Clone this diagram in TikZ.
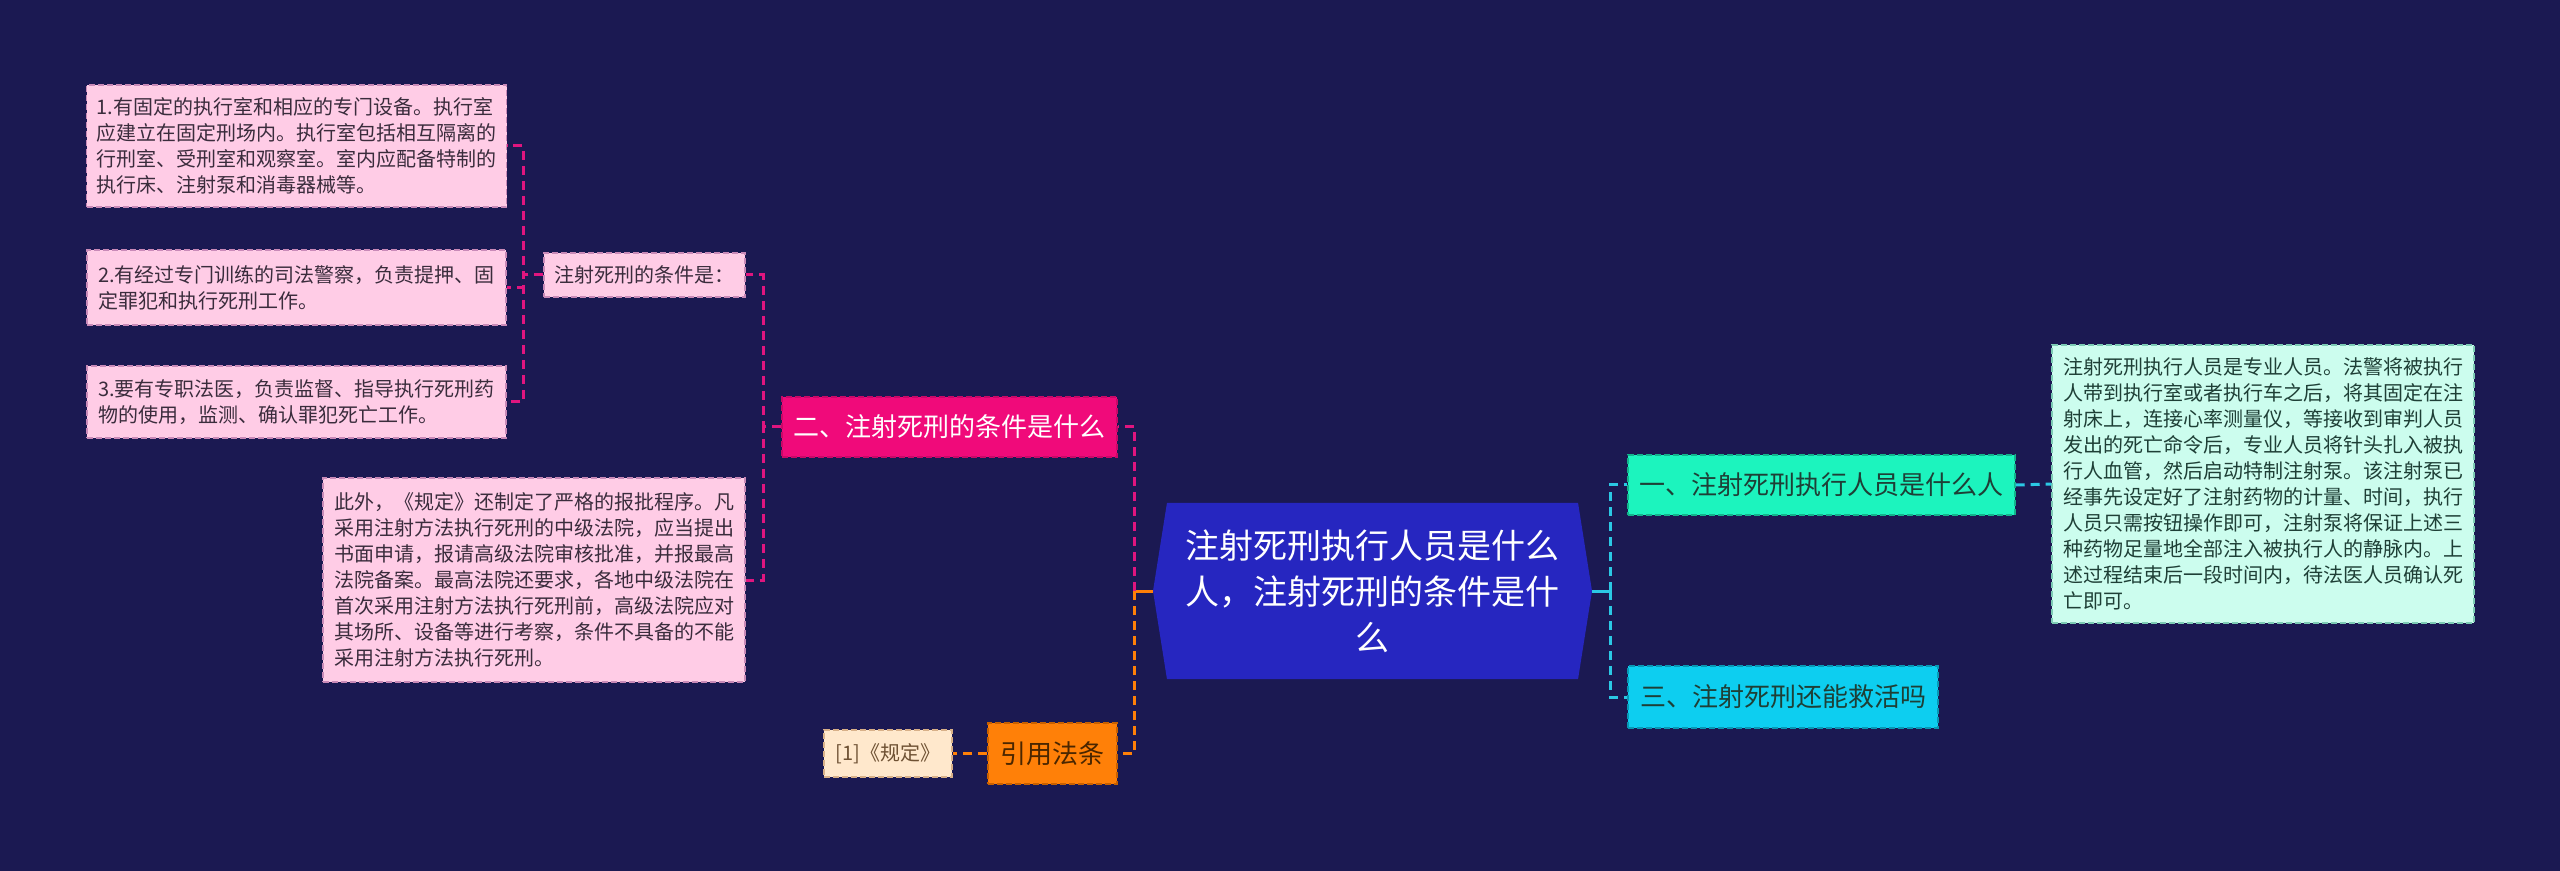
\documentclass[tikz,border=0pt]{standalone}
\usepackage{fontspec}
\setmainfont{Noto Sans CJK SC}
\usepackage{xcolor}
\usetikzlibrary{shapes.symbols}

\definecolor{bgnavy}{HTML}{1B1952}
\definecolor{rootblue}{HTML}{2626C0}
\definecolor{leafpink}{HTML}{FFCCE6}
\definecolor{leafedge}{HTML}{C98AB8}
\definecolor{leaftext}{HTML}{3A2C3C}
\definecolor{hotpink}{HTML}{F00A7A}
\definecolor{hotedge}{HTML}{C90868}
\definecolor{linkpink}{HTML}{E0157F}
\definecolor{citeorange}{HTML}{FF8008}
\definecolor{citeedge}{HTML}{C86000}
\definecolor{citetext}{HTML}{4A2600}
\definecolor{peach}{HTML}{FFE8CC}
\definecolor{peachedge}{HTML}{D8B088}
\definecolor{aqua}{HTML}{1CF4BE}
\definecolor{aquaedge}{HTML}{12B48C}
\definecolor{cyanbox}{HTML}{0DCEF0}
\definecolor{cyanedge}{HTML}{0898B4}
\definecolor{mint}{HTML}{CCFDEE}
\definecolor{mintedge}{HTML}{7CCBB4}
\definecolor{greentext}{HTML}{1E3F36}
\definecolor{linkcyan}{HTML}{2BC8E4}

\begin{document}
\begin{tikzpicture}[
    x=0.5pt,
    y=-0.5pt,
    box/.style={
        dash pattern=on 3pt off 1.5pt,
        line width=0.7pt,
        inner xsep=5pt,
        inner ysep=3pt
    },
    leaf/.style={
        box,
        draw=leafedge,
        fill=leafpink,
        text=leaftext,
        font=\fontsize{10}{13}\selectfont,
        align=left
    },
    branch/.style={
        box,
        font=\fontsize{13}{16}\selectfont
    },
    detail/.style={
        box,
        draw=mintedge,
        fill=mint,
        text=greentext,
        font=\fontsize{10}{13}\selectfont,
        align=left
    },
    root/.style={
        signal,
        signal to=east and west,
        signal pointer angle=162,
        fill=rootblue,
        text=white,
        inner sep=0pt,
        font=\fontsize{17}{23}\selectfont,
        align=center
    },
    link/.style={
        line width=1.5pt,
        dash pattern=on 4.5pt off 3pt
    },
    pinkline/.style={link, draw=linkpink},
    orangeline/.style={link, draw=citeorange},
    cyanline/.style={link, draw=linkcyan}
]

% Background
\fill[bgnavy] (0,0) rectangle (2560,871);

% Nodes
\node [root, minimum width=219.5pt, minimum height=88pt] (root) at (1372.5,591)
    {注射死刑执行人员是什么\\人，注射死刑的条件是什\\么};

\node [branch, draw=hotedge, fill=hotpink, text=white,
    minimum width=167.5pt, minimum height=30pt] (two) at (949.5,427)
    {二、注射死刑的条件是什么};
\node [leaf, minimum width=100.5pt, minimum height=22pt] (cond) at (644.5,275)
    {注射死刑的条件是：};
\node [leaf, minimum width=209.5pt, minimum height=61pt] (cond1) at (296.5,146)
    {1.有固定的执行室和相应的专门设备。执行室\\应建立在固定刑场内。执行室包括相互隔离的\\行刑室、受刑室和观察室。室内应配备特制的\\执行床、注射泵和消毒器械等。};
\node [leaf, minimum width=209.5pt, minimum height=37.5pt] (cond2) at (296.5,287.5)
    {2.有经过专门训练的司法警察，负责提押、固\\定罪犯和执行死刑工作。};
\node [leaf, minimum width=209.5pt, minimum height=36pt] (cond3) at (296.5,402)
    {3.要有专职法医，负责监督、指导执行死刑药\\物的使用，监测、确认罪犯死亡工作。};
\node [leaf, minimum width=211pt, minimum height=102pt] (extra) at (534,580)
    {此外，《规定》还制定了严格的报批程序。凡\\采用注射方法执行死刑的中级法院，应当提出\\书面申请，报请高级法院审核批准，并报最高\\法院备案。最高法院还要求，各地中级法院在\\首次采用注射方法执行死刑前，高级法院应对\\其场所、设备等进行考察，条件不具备的不能\\采用注射方法执行死刑。};

\node [branch, draw=citeedge, fill=citeorange, text=citetext,
    minimum width=64.5pt, minimum height=30.5pt] (cite) at (1052.5,753.5)
    {引用法条};
\node [box, draw=peachedge, fill=peach, text=citetext!80,
    font=\fontsize{10}{13}\selectfont,
    minimum width=64pt, minimum height=23.5pt] (ref) at (888,753.5)
    {[1]《规定》};

\node [branch, draw=aquaedge, fill=aqua, text=greentext,
    minimum width=193.5pt, minimum height=30pt] (one) at (1821.5,485)
    {一、注射死刑执行人员是什么人};
\node [detail, minimum width=211pt, minimum height=139pt] (who) at (2263,484)
    {注射死刑执行人员是专业人员。法警将被执行\\人带到执行室或者执行车之后，将其固定在注\\射床上，连接心率测量仪，等接收到审判人员\\发出的死亡命令后，专业人员将针头扎入被执\\行人血管，然后启动特制注射泵。该注射泵已\\经事先设定好了注射药物的计量、时间，执行\\人员只需按钮操作即可，注射泵将保证上述三\\种药物足量地全部注入被执行人的静脉内。上\\述过程结束后一段时间内，待法医人员确认死\\亡即可。};
\node [branch, draw=cyanedge, fill=cyanbox, text=greentext,
    minimum width=155pt, minimum height=31pt] (three) at (1783,697)
    {三、注射死刑还能救活吗};

\coordinate (lhub) at ([xshift=-9pt]root.west);
\coordinate (rhub) at ([xshift=9pt]root.east);

% Connectors, left side
\draw [orangeline, solid] (root.west) -- (lhub);
\draw [pinkline] (lhub) |- (two.east);
\draw [orangeline] (lhub) |- (cite.east);
\draw [orangeline] (cite.west) -- (ref.east);
\draw [pinkline] (two.west) -- ++(-18,0) |- (cond.east);
\draw [pinkline] (two.west) -- ++(-18,0) |- (extra.east);
\draw [pinkline] (cond.west) -- ++(-20,0) |- (cond1.east);
\draw [pinkline] (cond.west) -- ++(-20,0) |- (cond2.east);
\draw [pinkline] (cond.west) -- ++(-20,0) |- (cond3.east);

% Connectors, right side
\draw [cyanline, solid] (root.east) -- (rhub);
\draw [cyanline] (rhub) |- (one.west);
\draw [cyanline] (rhub) |- (three.west);
\draw [cyanline] (one.east) -- (who.west);

\end{tikzpicture}
\end{document}
